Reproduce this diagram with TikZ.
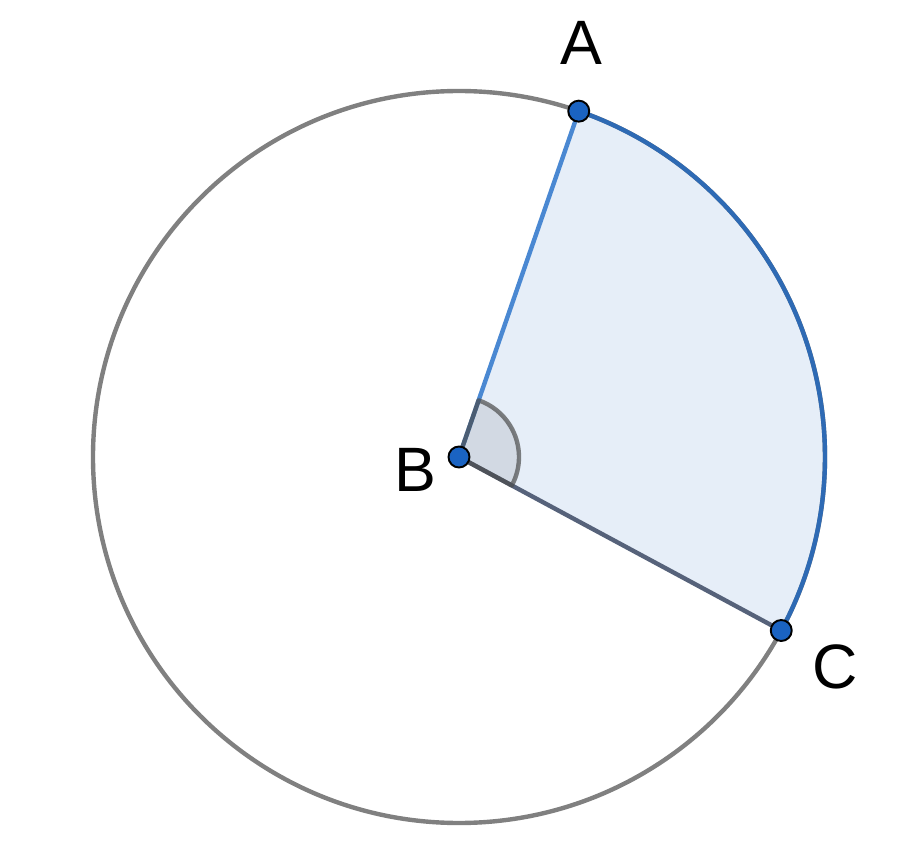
\documentclass[tikz,border=0pt]{standalone}
\usepackage{fontspec}
\setmainfont{Liberation Sans}
\usepackage{xcolor}
\definecolor{rimgray}{HTML}{808080}
\definecolor{arcblue}{HTML}{2E6AB4}
\definecolor{rayblue}{HTML}{4A88D2}
\definecolor{rayslate}{HTML}{56627A}
\definecolor{sectfill}{HTML}{E6EEF8}
\definecolor{markfill}{HTML}{D2D9E3}
\definecolor{dotblue}{HTML}{1A63C2}
\usetikzlibrary{positioning,calc}
\tikzset{
  rim/.style    ={draw=rimgray, line width=2.5pt},
  arcline/.style={draw=arcblue, line width=2.5pt},
  ray/.style    ={line width=2.5pt},
  pt/.style     ={circle, draw=black, fill=dotblue, line width=1.1pt,
                  minimum size=0.42cm, inner sep=0pt},
  lbl/.style    ={font=\fontsize{35.7}{40}\selectfont, inner sep=0pt},
}

\begin{document}
\begin{tikzpicture}[x=0.02cm, y=0.02cm]
  \useasboundingbox (-459,-399) rectangle (465,457);
  \coordinate (B) at (0,0);
  \coordinate (A) at (70.9:366);
  \coordinate (C) at (-28.3:366);
  % sector
  \fill[sectfill] (B) -- (A) arc[start angle=70.9, end angle=-28.3, radius=366] -- cycle;
  \draw[rim] (B) circle[radius=366];
  \draw[arcline] (A) arc[start angle=70.9, end angle=-28.3, radius=366];
  \fill[markfill] (B) -- (-28.3:60) arc[start angle=-28.3, end angle=70.9, radius=60] -- cycle;
  \draw[ray, rayblue] (B) -- (A);
  \draw[ray, rayslate] (B) -- (C);
  % angle mark
  \draw[draw=black!70, line width=2.5pt, opacity=0.7, line join=round]
    (B) -- (-28.3:60) arc[start angle=-28.3, end angle=70.9, radius=60] -- cycle;
  % points
  \node[pt] (a) at (A) {};
  \node[pt] (b) at (B) {};
  \node[pt] (c) at (C) {};
  \node[lbl] (la) at (122,414) {A};
  \node[lbl] (lb) at (-44,-13) {B};
  \node[lbl] (lc) at (376,-210) {C};
\end{tikzpicture}
\end{document}
